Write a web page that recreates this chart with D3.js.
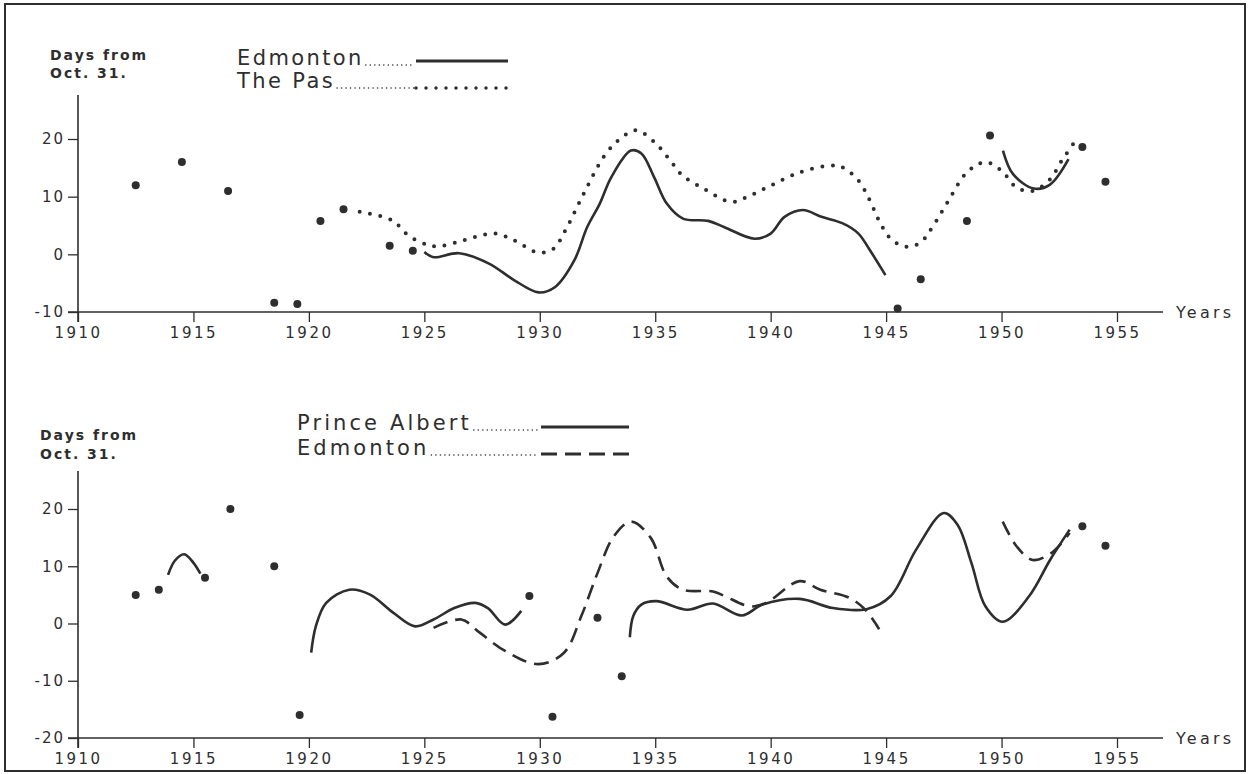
<!DOCTYPE html>
<html><head><meta charset="utf-8">
<script src="https://cdn.jsdelivr.net/npm/d3@7/dist/d3.min.js"></script>
<style>body{margin:0;background:#fff}svg{display:block}</style></head>
<body><svg id="c" width="1253" height="774"></svg>
<script>
// ---------- DATA ----------
const xTickYears = [1910,1915,1920,1925,1930,1935,1940,1945,1950,1955];
const topYTicks = [-10,0,10,20];
const botYTicks = [-20,-10,0,10,20];

// Top panel: isolated observations
const topDotYears  = [1912.5,1914.5,1916.5,1918.5,1919.5,1920.5,1921.5,1923.5,1924.5,1945.5,1946.5,1948.5,1949.5,1953.5,1954.5];
const topDotValues = [12,16,11,-8.4,-8.6,5.8,7.8,1.5,0.6,-9.4,-4.3,5.8,20.6,18.6,12.6];

// Top panel: Edmonton (solid)
const topEdmA_years  = [1925.0,1925.4,1926.5,1927.8,1928.9,1929.95,1930.65,1931.5,1932.05,1932.6,1933.1,1933.95,1934.4,1934.95,1935.5,1936.2,1937.3,1938.0,1939.3,1940.0,1940.6,1941.4,1942.2,1943.1,1943.8,1944.3,1944.97];
const topEdmA_values = [0.4,-0.5,0.2,-1.6,-4.5,-6.6,-5.7,-1.0,4.7,8.8,13.4,18.0,17.5,13.4,8.8,6.2,5.8,4.7,2.7,3.6,6.5,7.7,6.5,5.4,3.6,0.7,-3.6];
const topEdmB_years  = [1950.06,1950.5,1951.4,1952.1,1952.9];
const topEdmB_values = [18.0,13.9,11.4,12.1,16.5];

// Top panel: The Pas (dotted)
const topPas_years  = [1922.2,1923.6,1924.3,1925.1,1925.6,1926.4,1927.2,1928.1,1928.9,1929.95,1930.6,1931.1,1931.9,1932.8,1933.5,1934.2,1935.1,1935.7,1936.2,1937.1,1938.3,1939.1,1940.0,1941.25,1942.6,1943.1,1943.8,1944.3,1944.7,1945.2,1945.9,1946.5,1947.0,1947.7,1948.5,1949.3,1950.0,1950.65,1951.35,1952.1,1952.6,1953.2];
const topPas_values = [7.4,5.9,3.3,1.7,1.4,2.1,3.0,3.6,2.4,0.3,1.0,4.1,10.5,17.1,20.1,21.5,18.9,16.0,13.6,11.4,9.1,10.2,11.9,14.2,15.4,15.1,12.8,9.3,5.8,2.7,1.3,2.1,4.7,9.3,14.2,16.0,14.5,11.6,11.0,13.0,16.2,19.7];

// Bottom panel: isolated observations
const botDotYears  = [1912.5,1913.5,1915.5,1916.6,1918.5,1919.6,1929.55,1930.55,1932.5,1933.55,1953.5,1954.5];
const botDotValues = [5.0,5.9,8.0,20.0,10.0,-16.0,4.8,-16.3,1.0,-9.2,17.0,13.6];

// Bottom panel: Prince Albert (solid)
const botPA1_years  = [1913.9,1914.2,1914.6,1915.0,1915.3];
const botPA1_values = [8.5,11.0,12.1,10.6,8.7];
const botPA2_years  = [1920.1,1920.3,1920.75,1921.75,1922.65,1923.65,1924.6,1925.4,1926.3,1927.2,1927.75,1928.5,1929.2];
const botPA2_values = [-5.1,-0.5,3.6,5.9,5.05,1.9,-0.5,0.7,2.7,3.6,2.7,-0.2,2.2];
const botPA3_years  = [1933.9,1934.05,1934.4,1935.05,1936.4,1937.5,1938.75,1939.65,1941.25,1942.7,1944.15,1945.2,1946.3,1947.5,1948.1,1948.7,1949.3,1950.05,1951.2,1952.1,1952.95];
const botPA3_values = [-2.4,1.3,3.3,3.9,2.4,3.5,1.4,3.3,4.3,2.7,2.5,4.8,12.9,19.3,17.2,10.5,3.0,0.3,4.8,11.1,16.4];

// Bottom panel: Edmonton (dashed)
const botEdm1_years  = [1925.4,1926.6,1927.4,1928.5,1929.95,1931.05,1931.8,1932.5,1933.2,1933.95,1934.8,1935.5,1936.2,1937.5,1938.0,1939.1,1939.8,1941.25,1942.15,1943.4,1944.1,1944.7];
const botEdm1_values = [-0.75,0.7,-1.6,-4.8,-7.1,-5.1,1.3,8.8,15.2,17.8,15.0,8.2,5.9,5.6,4.8,3.0,3.6,7.4,5.9,4.5,2.4,-1.0];
const botEdm2_years  = [1950.05,1950.65,1951.35,1952.15,1952.95];
const botEdm2_values = [17.8,13.5,11.1,12.3,15.8];

// ---------- DRAW ----------
const INK = "#2e2e2e";
const FONT = "'DejaVu Sans', 'Liberation Sans', sans-serif";
const svg = d3.select("#c");
svg.append("rect").attr("width",1253).attr("height",774).attr("fill","#fff");
svg.append("rect").attr("x",5).attr("y",4).attr("width",1240).attr("height",767)
  .attr("fill","none").attr("stroke",INK).attr("stroke-width",2);

const x = d3.scaleLinear().domain([1910,1955]).range([78,1117]);
const zip = (a,b)=>a.map((d,i)=>[d,b[i]]);

function panel(cfg){
  const y = d3.scaleLinear().domain(cfg.yDomain).range(cfg.yRange);
  const g = svg.append("g");
  const axisY = y(cfg.yDomain[0]);
  // x axis
  const xa = g.append("g").attr("transform",`translate(0,${axisY})`)
    .call(d3.axisBottom(x).tickValues(xTickYears).tickSize(10).tickPadding(5).tickFormat(d=>String(d)));
  xa.select(".domain").remove();
  xa.selectAll("line").attr("stroke",INK).attr("stroke-width",1.3);
  xa.selectAll("text").attr("font-family",FONT).attr("font-size",15).attr("fill",INK).attr("letter-spacing","2.5px");
  g.append("line").attr("x1",68).attr("x2",1163).attr("y1",axisY).attr("y2",axisY).attr("stroke",INK).attr("stroke-width",1.6);
  // y axis
  const ya = g.append("g").attr("transform",`translate(78,0)`)
    .call(d3.axisLeft(y).tickValues(cfg.yTicks).tickSize(10).tickPadding(3).tickFormat(d=>String(d)));
  ya.select(".domain").remove();
  ya.selectAll("line").attr("stroke",INK).attr("stroke-width",1.3);
  ya.selectAll("text").attr("font-family",FONT).attr("font-size",15).attr("fill",INK).attr("letter-spacing","2px");
  g.append("line").attr("x1",78).attr("x2",78).attr("y1",cfg.yTop).attr("y2",axisY+10).attr("stroke",INK).attr("stroke-width",1.6);
  // labels
  g.append("text").attr("x",1176).attr("y",axisY+6).text("Years")
    .attr("font-family",FONT).attr("font-size",16).attr("fill",INK).attr("letter-spacing","3.2px");
  g.append("text").attr("x",cfg.lblX).attr("y",cfg.lblY).text("Days from")
    .attr("font-family",FONT).attr("font-size",14).attr("font-weight","bold").attr("fill",INK).attr("letter-spacing","2px");
  g.append("text").attr("x",cfg.lblX).attr("y",cfg.lblY+cfg.lblDY).text("Oct. 31.")
    .attr("font-family",FONT).attr("font-size",14).attr("font-weight","bold").attr("fill",INK).attr("letter-spacing","2px");

  const line = d3.line().x(d=>x(d[0])).y(d=>y(d[1])).curve(d3.curveCatmullRom.alpha(0.5));
  cfg.series.forEach(s=>{
    const p = g.append("path").attr("d",line(zip(s.years,s.values))).attr("fill","none")
      .attr("stroke",INK);
    if(s.style==="solid") p.attr("stroke-width",2.6);
    if(s.style==="dotted") p.attr("stroke-width",4).attr("stroke-linecap","round").attr("stroke-dasharray","0 10.5");
    if(s.style==="dashed") p.attr("stroke-width",2.6).attr("stroke-dasharray","15 8");
  });
  g.selectAll("circle.pt").data(zip(cfg.dotYears,cfg.dotValues)).enter().append("circle")
    .attr("class","pt").attr("cx",d=>x(d[0])).attr("cy",d=>y(d[1])).attr("r",4).attr("fill",INK);

  // legend
  cfg.legend.forEach((L,i)=>{
    const ty = cfg.legY + i*cfg.legDY;
    const t = g.append("text").attr("x",cfg.legX).attr("y",ty).text(L.name)
      .attr("font-family",FONT).attr("font-size",21).attr("fill",INK).attr("letter-spacing",cfg.legLS);
    const w = t.node().getComputedTextLength();
    const ly = ty + L.dy;
    g.append("line").attr("x1",cfg.legX+w+2).attr("x2",cfg.legSampleX0-2).attr("y1",ty).attr("y2",ty)
      .attr("stroke",INK).attr("stroke-width",1.6).attr("stroke-linecap","round").attr("stroke-dasharray","0 4.5");
    const sl = g.append("line").attr("x1",cfg.legSampleX0).attr("x2",cfg.legSampleX1).attr("y1",ly).attr("y2",ly).attr("stroke",INK);
    if(L.style==="solid") sl.attr("stroke-width",3);
    if(L.style==="dotted") sl.attr("stroke-width",3.5).attr("stroke-linecap","round").attr("stroke-dasharray","0 10");
    if(L.style==="dashed") sl.attr("stroke-width",3).attr("stroke-dasharray","16 8");
  });
}

panel({
  yDomain:[-10,20], yRange:[312,139], yTicks:topYTicks, yTop:95,
  lblX:50, lblY:60, lblDY:18,
  dotYears:topDotYears, dotValues:topDotValues,
  series:[
    {years:topEdmA_years, values:topEdmA_values, style:"solid"},
    {years:topEdmB_years, values:topEdmB_values, style:"solid"},
    {years:topPas_years, values:topPas_values, style:"dotted"}
  ],
  legX:237, legY:65, legDY:23, legLS:"2.4px", legSampleX0:416, legSampleX1:508,
  legend:[{name:"Edmonton",style:"solid",dy:-4},{name:"The Pas",style:"dotted",dy:0}]
});

panel({
  yDomain:[-20,20], yRange:[738,509], yTicks:botYTicks, yTop:471,
  lblX:40, lblY:440, lblDY:19,
  dotYears:botDotYears, dotValues:botDotValues,
  series:[
    {years:botPA1_years, values:botPA1_values, style:"solid"},
    {years:botPA2_years, values:botPA2_values, style:"solid"},
    {years:botPA3_years, values:botPA3_values, style:"solid"},
    {years:botEdm1_years, values:botEdm1_values, style:"dashed"},
    {years:botEdm2_years, values:botEdm2_values, style:"dashed"}
  ],
  legX:297, legY:430, legDY:25, legLS:"3.1px", legSampleX0:541, legSampleX1:629,
  legend:[{name:"Prince Albert",style:"solid",dy:-3},{name:"Edmonton",style:"dashed",dy:-1}]
});
</script></body></html>
